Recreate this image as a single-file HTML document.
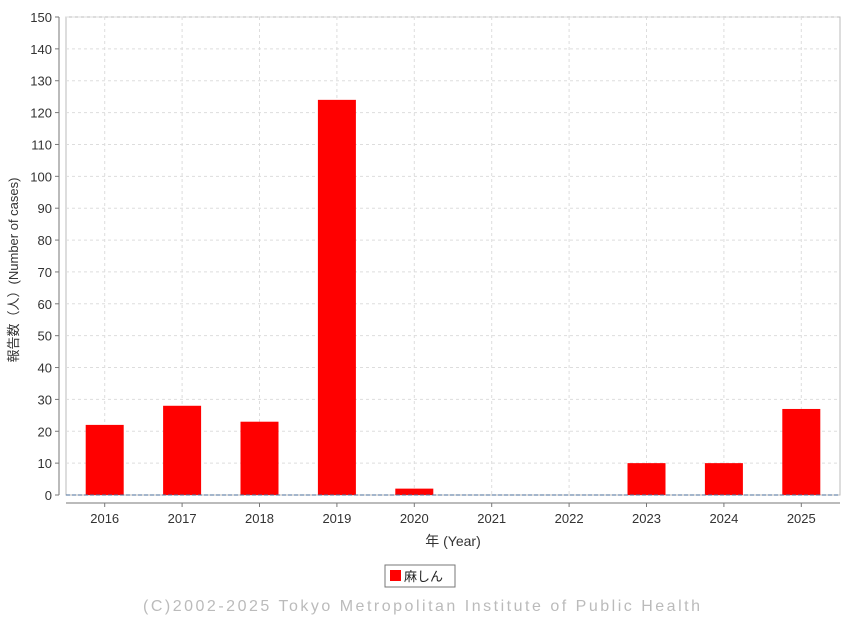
<!DOCTYPE html>
<html><head><meta charset="utf-8"><style>
body{margin:0;background:#fff;}
svg text{font-family:"Liberation Sans","Noto Sans CJK JP",sans-serif;}
</style></head><body>
<svg id="c" width="848" height="621" xmlns="http://www.w3.org/2000/svg"></svg>
<script>
const categories=["2016","2017","2018","2019","2020","2021","2022","2023","2024","2025"];
const values=[22,28,23,124,2,0,0,10,10,27];
const yTicks=[0,10,20,30,40,50,60,70,80,90,100,110,120,130,140,150];
const L=66,R=840,T=17,B=495,yMax=150;
const svg=document.getElementById('c');
const ns="http://www.w3.org/2000/svg";
function el(t,a,txt){const e=document.createElementNS(ns,t);for(const k in a)e.setAttribute(k,a[k]);if(txt!==undefined)e.textContent=txt;svg.appendChild(e);return e;}
const y=v=>B-(v/yMax)*(B-T);
const cw=(R-L)/categories.length;
const xc=i=>L+cw*(i+0.5);
let e=el('rect',{x:L,y:T,width:R-L,height:B-T,fill:'#fff',stroke:'#bbb','stroke-width':1});

yTicks.forEach(v=>{
 let g=el('line',{x1:L,x2:R,y1:y(v),y2:y(v),stroke:'#ddd','stroke-dasharray':'3,3'});
 
 let tk=el('line',{x1:55,x2:59,y1:y(v),y2:y(v),stroke:'#777'});
 
 let t=el('text',{x:52,y:y(v)+5,'text-anchor':'end','font-size':13,fill:'#333'},v);
 
});
categories.forEach((c,i)=>{
 let g=el('line',{x1:xc(i),x2:xc(i),y1:T,y2:B,stroke:'#ddd','stroke-dasharray':'3,3'});
 
 let bw=38;
 let r=el('rect',{x:xc(i)-bw/2,y:y(values[i]),width:bw,height:B-y(values[i]),fill:'#f00'});
 
 let tk=el('line',{x1:xc(i),x2:xc(i),y1:503,y2:507,stroke:'#777'});
 
 let t=el('text',{x:xc(i),y:523,'text-anchor':'middle','font-size':13,fill:'#333'},c);
 
});
e=el('line',{x1:L,x2:R,y1:B,y2:B,stroke:'#4a6e9a','stroke-dasharray':'4,2'});

e=el('line',{x1:59,x2:59,y1:T,y2:B,stroke:'#777'});

e=el('line',{x1:L,x2:R,y1:503,y2:503,stroke:'#777'});

e=el('text',{x:453,y:546,'text-anchor':'middle','font-size':14,fill:'#333'},'年 (Year)');

e=el('text',{x:0,y:0,'text-anchor':'middle','font-size':13,fill:'#333',transform:'translate(18,270) rotate(-90)'},'報告数（人）(Number of cases)');

e=el('rect',{x:385,y:565,width:70,height:22,fill:'#fff',stroke:'#777'});

e=el('rect',{x:390,y:570,width:11,height:11,fill:'#f00'});

e=el('text',{x:404,y:581,'font-size':13,fill:'#222'},'麻しん');

e=el('text',{x:143,y:611,'font-size':16,fill:'#bbb',textLength:557,lengthAdjust:'spacing'},'(C)2002-2025 Tokyo Metropolitan Institute of Public Health');

</script>
</body></html>
